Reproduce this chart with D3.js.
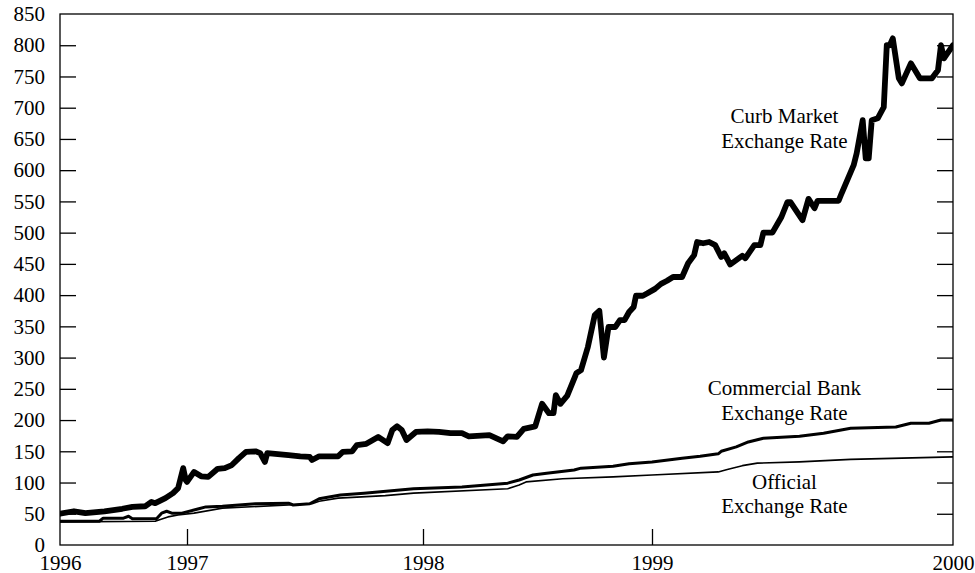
<!DOCTYPE html>
<html>
<head>
<meta charset="utf-8">
<script src="https://cdn.jsdelivr.net/npm/d3@7"></script>
<style>
  html, body { margin: 0; padding: 0; background: #fff; }
  svg { display: block; }
  text { font-family: "Liberation Serif", "Times New Roman", Times, serif; fill: #000; }
</style>
</head>
<body>
<svg id="chart" width="975" height="573"></svg>
<script>
// ---------- DATA (fractional year, value) ----------
const yearTicks = [1996, 1997, 1998, 1999, 2000];
const yTicks = [0, 50, 100, 150, 200, 250, 300, 350, 400, 450, 500, 550, 600, 650, 700, 750, 800, 850];

const curbMarket = [
  [1996.00, 50], [1996.11, 54], [1996.20, 51], [1996.35, 54], [1996.49, 58], [1996.57, 61],
  [1996.67, 62], [1996.72, 69], [1996.75, 67], [1996.83, 75], [1996.89, 83], [1996.93, 91],
  [1996.95, 107], [1996.97, 123], [1996.99, 104], [1997.00, 101], [1997.03, 117], [1997.06, 110],
  [1997.09, 109], [1997.13, 122], [1997.16, 123], [1997.19, 128], [1997.22, 139], [1997.25, 149],
  [1997.29, 150], [1997.31, 147], [1997.33, 133], [1997.34, 147], [1997.43, 144], [1997.48, 142],
  [1997.52, 141], [1997.53, 136], [1997.56, 142], [1997.64, 142], [1997.66, 149], [1997.70, 150],
  [1997.72, 160], [1997.76, 162], [1997.81, 173], [1997.85, 163], [1997.87, 184], [1997.89, 190],
  [1997.91, 184], [1997.93, 168], [1997.97, 181], [1998.02, 182], [1998.07, 181], [1998.12, 179],
  [1998.17, 179], [1998.20, 174], [1998.29, 176], [1998.35, 166], [1998.37, 174], [1998.41, 173],
  [1998.44, 186], [1998.49, 190], [1998.52, 226], [1998.55, 211], [1998.57, 211], [1998.58, 240],
  [1998.60, 226], [1998.63, 239], [1998.67, 275], [1998.69, 280], [1998.72, 317], [1998.75, 368],
  [1998.77, 375], [1998.79, 300], [1998.81, 349], [1998.84, 349], [1998.86, 360], [1998.88, 360],
  [1998.90, 373], [1998.92, 381], [1998.93, 399], [1998.96, 399], [1998.98, 403], [1999.01, 410],
  [1999.03, 418], [1999.05, 423], [1999.07, 429], [1999.10, 429], [1999.12, 451], [1999.14, 464],
  [1999.15, 485], [1999.17, 483], [1999.19, 485], [1999.21, 480], [1999.23, 461], [1999.24, 467],
  [1999.26, 449], [1999.30, 463], [1999.31, 459], [1999.34, 480], [1999.36, 480], [1999.37, 500],
  [1999.40, 500], [1999.43, 525], [1999.45, 549], [1999.46, 549], [1999.50, 520], [1999.52, 554],
  [1999.54, 539], [1999.55, 551], [1999.62, 551], [1999.63, 563], [1999.67, 608], [1999.68, 627],
  [1999.70, 680], [1999.71, 619], [1999.72, 619], [1999.73, 680], [1999.75, 683], [1999.77, 701],
  [1999.78, 800], [1999.79, 800], [1999.80, 811], [1999.82, 747], [1999.83, 739], [1999.86, 771],
  [1999.89, 747], [1999.93, 747], [1999.95, 760], [1999.96, 800], [1999.97, 779], [2000.00, 800]
];

const commercialBank = [
  [1996.00, 38], [1996.31, 38], [1996.34, 43], [1996.50, 43], [1996.54, 46], [1996.57, 42],
  [1996.76, 42], [1996.80, 51], [1996.84, 54], [1996.88, 51], [1996.96, 51], [1997.05, 58],
  [1997.08, 61], [1997.15, 62], [1997.29, 66], [1997.43, 67], [1997.45, 64], [1997.52, 66],
  [1997.56, 74], [1997.65, 80], [1997.75, 83], [1997.96, 90], [1998.17, 93], [1998.37, 99],
  [1998.42, 104], [1998.48, 112], [1998.54, 115], [1998.66, 120], [1998.69, 123], [1998.83, 126],
  [1998.90, 130], [1999.00, 133], [1999.10, 139], [1999.16, 142], [1999.22, 146], [1999.23, 150],
  [1999.28, 157], [1999.32, 165], [1999.37, 171], [1999.49, 174], [1999.57, 179], [1999.66, 187],
  [1999.81, 189], [1999.86, 195], [1999.92, 195], [1999.96, 200], [2000.00, 200]
];

const official = [
  [1996.00, 37], [1996.75, 38], [1996.79, 41], [1996.85, 45], [1996.93, 48], [1997.03, 51],
  [1997.15, 59], [1997.43, 64], [1997.53, 66], [1997.56, 70], [1997.64, 75], [1997.84, 79],
  [1997.96, 83], [1998.37, 90], [1998.42, 96], [1998.45, 101], [1998.61, 106], [1998.83, 109],
  [1999.00, 112], [1999.22, 117], [1999.25, 121], [1999.30, 127], [1999.35, 131], [1999.49, 133],
  [1999.66, 137], [2000.00, 141]
];

const labels = [
  { lines: ["Curb Market", "Exchange Rate"], x: 1999.44, y: 675 },
  { lines: ["Commercial Bank", "Exchange Rate"], x: 1999.44, y: 240 },
  { lines: ["Official", "Exchange Rate"], x: 1999.44, y: 90 }
];

// ---------- LAYOUT ----------
const mLeft = 60, mRight = 953, mTop = 14, mBottom = 545;
const svg = d3.select("#chart");

// the time axis is not evenly spaced between years in the original
const x = d3.scaleLinear()
  .domain(yearTicks)
  .range([mLeft, 187, 423, 652, mRight]);
const y = d3.scaleLinear().domain([0, 850]).range([mBottom, mTop]);

const fontSize = 21;
const serif = '"Liberation Serif", "Times New Roman", serif';

// frame
svg.append("rect")
  .attr("x", mLeft).attr("y", mTop)
  .attr("width", mRight - mLeft).attr("height", mBottom - mTop)
  .attr("fill", "none").attr("stroke", "#000").attr("stroke-width", 1.3);

// left axis (ticks inward)
const yAxisL = svg.append("g").attr("transform", `translate(${mLeft},0)`)
  .call(d3.axisLeft(y).tickValues(yTicks).tickSize(-16).tickPadding(15).tickFormat(d3.format("d")));
yAxisL.select(".domain").remove();
yAxisL.selectAll(".tick line").attr("stroke", "#000").attr("stroke-width", 1.3);
yAxisL.selectAll(".tick text")
  .style("font-family", serif)
  .style("font-size", fontSize + "px").attr("fill", "#000");
yAxisL.selectAll(".tick").filter(d => d === 850 || d === 0).select("line").remove();

// right axis ticks (inward, no labels)
const yAxisR = svg.append("g").attr("transform", `translate(${mRight},0)`)
  .call(d3.axisRight(y).tickValues(yTicks.filter(d => d > 0 && d < 850)).tickSize(-16).tickFormat(""));
yAxisR.select(".domain").remove();
yAxisR.selectAll(".tick line").attr("stroke", "#000").attr("stroke-width", 1.3);

// bottom axis
const xAxis = svg.append("g").attr("transform", `translate(0,${mBottom})`)
  .call(d3.axisBottom(x).tickValues(yearTicks).tickSize(-16).tickFormat(d3.format("d")));
xAxis.select(".domain").remove();
xAxis.selectAll(".tick line").attr("stroke", "#000").attr("stroke-width", 1.3);
xAxis.selectAll(".tick").filter(d => d === 1996 || d === 2000).select("line").remove();
xAxis.selectAll(".tick text")
  .style("font-family", serif)
  .style("font-size", fontSize + "px").attr("fill", "#000")
  .attr("dy", null).attr("y", 24.5);

// lines
const line = d3.line().x(d => x(d[0])).y(d => y(d[1]));
svg.append("clipPath").attr("id", "clip")
  .append("rect").attr("x", mLeft).attr("y", mTop - 10)
  .attr("width", mRight - mLeft).attr("height", mBottom - mTop + 10);

const g = svg.append("g").attr("clip-path", "url(#clip)");
g.append("path").datum(official).attr("d", line)
  .attr("fill", "none").attr("stroke", "#000").attr("stroke-width", 1.6)
  .attr("stroke-linejoin", "round").attr("stroke-linecap", "round");
g.append("path").datum(commercialBank).attr("d", line)
  .attr("fill", "none").attr("stroke", "#000").attr("stroke-width", 3)
  .attr("stroke-linejoin", "round").attr("stroke-linecap", "round");
g.append("path").datum(curbMarket).attr("d", line)
  .attr("fill", "none").attr("stroke", "#000").attr("stroke-width", 5.8)
  .attr("stroke-linejoin", "round").attr("stroke-linecap", "round");

// annotations
labels.forEach(l => {
  const t = svg.append("text")
    .attr("x", x(l.x)).attr("y", y(l.y))
    .attr("text-anchor", "middle")
    .style("font-family", serif)
    .style("font-size", fontSize + "px");
  l.lines.forEach((s, i) => {
    t.append("tspan").attr("x", x(l.x)).attr("dy", i === 0 ? 0 : 24.5).text(s);
  });
});
</script>
</body>
</html>
